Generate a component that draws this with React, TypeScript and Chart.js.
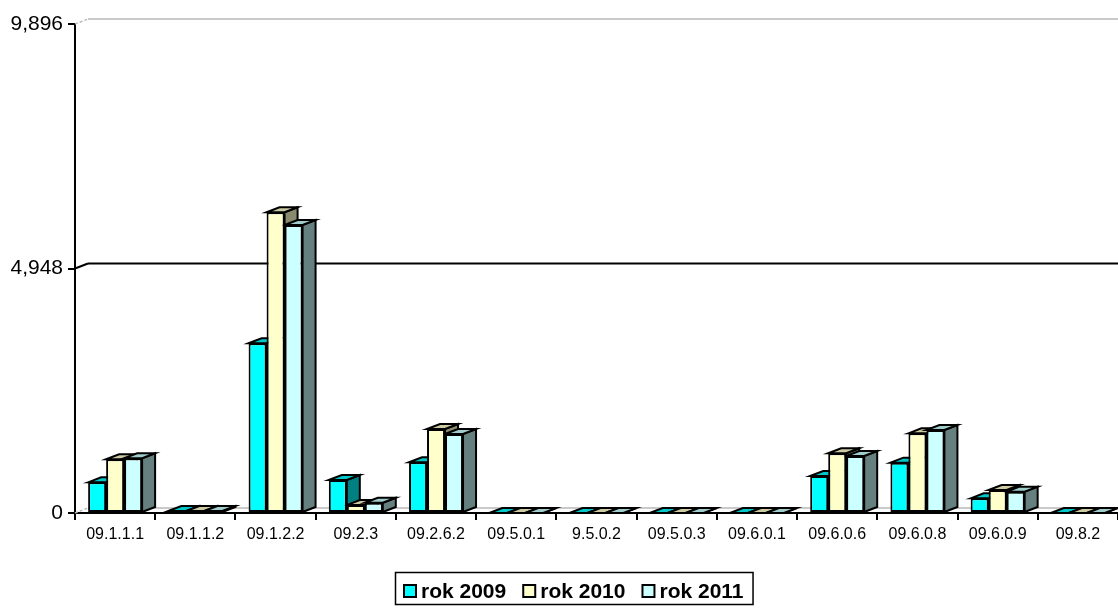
import React, { useEffect, useRef } from 'react';
import { Chart, registerables } from 'chart.js';

Chart.register(...registerables);

const categories = ['09.1.1.1', '09.1.1.2', '09.1.2.2', '09.2.3', '09.2.6.2', '09.5.0.1', '9.5.0.2', '09.5.0.3', '09.6.0.1', '09.6.0.6', '09.6.0.8', '09.6.0.9', '09.8.2'];
const rok2009 = [621, 40, 3435, 668, 1026, 0, 0, 0, 0, 749, 1019, 297, 0];
const rok2010 = [1087, 40, 6086, 160, 1700, 0, 0, 0, 0, 1208, 1612, 466, 0];
const rok2011 = [1107, 40, 5829, 208, 1599, 0, 0, 0, 0, 1154, 1680, 432, 0];
const seriesLabels = ['rok 2009', 'rok 2010', 'rok 2011'];
const yTicks = [0, 4948, 9896];

const frontColors = ['#00FFFF', '#FFFFCC', '#CCFFFF'];
const topColors = ['#00C8C8', '#CCCBA3', '#A0CCCC'];
const sideColors = ['#008080', '#8A8A6E', '#668080'];

const DX = 13;
const DY = -5;
const FONT = '"Liberation Sans", Arial, sans-serif';

const depthPlugin = {
  id: 'depth3d',
  beforeDatasetsDraw(chart: any) {
    const { ctx, chartArea, scales } = chart;
    const y = scales.y;
    const x0 = chartArea.left;
    const x1 = chartArea.right;
    ctx.save();
    yTicks.forEach((v, i) => {
      const py = y.getPixelForValue(v);
      const mid = i === 1;
      ctx.strokeStyle = mid ? '#000000' : '#b8b8b8';
      ctx.lineWidth = mid ? 2 : 1.5;
      ctx.setLineDash(mid ? [] : [3, 2]);
      ctx.beginPath();
      ctx.moveTo(x0, py);
      ctx.lineTo(x0 + DX, py + DY);
      ctx.stroke();
      ctx.setLineDash([]);
      ctx.beginPath();
      ctx.moveTo(x0 + DX, py + DY);
      ctx.lineTo(x1, py + DY);
      ctx.stroke();
    });

    ctx.lineWidth = 2;
    ctx.strokeStyle = '#000000';
    ctx.lineJoin = 'miter';
    chart.data.datasets.forEach((_ds: any, idx: number) => {
      const meta = chart.getDatasetMeta(idx);
      meta.data.forEach((bar: any) => {
        const { x, y: top, base, width } = bar.getProps(['x', 'y', 'base', 'width'], true);
        const l = x - width / 2;
        const r = x + width / 2;
        ctx.fillStyle = sideColors[idx];
        ctx.beginPath();
        ctx.moveTo(r, top);
        ctx.lineTo(r + DX, top + DY);
        ctx.lineTo(r + DX, base + DY);
        ctx.lineTo(r, base);
        ctx.closePath();
        ctx.fill();
        ctx.stroke();
        ctx.fillStyle = topColors[idx];
        ctx.beginPath();
        ctx.moveTo(l, top);
        ctx.lineTo(l + DX, top + DY);
        ctx.lineTo(r + DX, top + DY);
        ctx.lineTo(r, top);
        ctx.closePath();
        ctx.fill();
        ctx.stroke();
      });
    });
    ctx.restore();
  },
  afterDraw(chart: any) {
    const ctx = chart.ctx;
    const datasets = chart.data.datasets;
    ctx.save();
    ctx.font = `bold 21px ${FONT}`;
    ctx.textBaseline = 'middle';
    ctx.textAlign = 'left';
    const left = 395;
    const top = 572;
    const h = 32;
    const pad = 9;
    const box = 12;
    const gapText = 5;
    const gapItem = 17;
    let w = pad * 2;
    datasets.forEach((ds: any, i: number) => {
      w += box + gapText + ctx.measureText(ds.label).width + (i < datasets.length - 1 ? gapItem : 0);
    });
    ctx.strokeStyle = '#000';
    ctx.lineWidth = 1.5;
    ctx.strokeRect(left + 0.5, top + 0.5, w, h);
    let x = left + pad;
    const cy = top + h / 2 + 3;
    datasets.forEach((ds: any) => {
      ctx.fillStyle = ds.backgroundColor;
      ctx.fillRect(x, cy - box / 2, box, box);
      ctx.lineWidth = 2;
      ctx.strokeRect(x, cy - box / 2, box, box);
      x += box + gapText;
      ctx.fillStyle = '#000';
      ctx.fillText(ds.label, x, cy + 1);
      x += ctx.measureText(ds.label).width + gapItem;
    });
    ctx.restore();
  },
};

export default function App() {
  const canvasRef = useRef<HTMLCanvasElement | null>(null);

  useEffect(() => {
    if (!canvasRef.current) return;
    const series = [rok2009, rok2010, rok2011];
    const chart = new Chart(canvasRef.current, {
      type: 'bar',
      data: {
        labels: categories,
        datasets: series.map((data, i) => ({
          label: seriesLabels[i],
          data,
          backgroundColor: frontColors[i],
          borderColor: '#000000',
          borderWidth: 2,
          borderSkipped: false,
          categoryPercentage: 0.673,
          barPercentage: 1,
        })),
      },
      options: {
        responsive: false,
        animation: false,
        layout: { padding: { top: 24, left: 0, right: 0, bottom: 40 } },
        plugins: {
          legend: { display: false },
          tooltip: { enabled: false },
        },
        scales: {
          x: {
            type: 'category',
            offset: true,
            grid: {
              display: true,
              offset: true,
              drawOnChartArea: false,
              drawTicks: true,
              tickLength: 7,
              color: '#000000',
              lineWidth: 2,
            },
            border: { display: true, color: '#000000', width: 2 },
            ticks: {
              color: '#000000',
              font: { family: FONT, size: 16 },
              padding: 5,
              maxRotation: 0,
              autoSkip: false,
            },
            afterFit: (scale: any) => {
              scale.height = 55;
            },
          },
          y: {
            min: 0,
            max: 9896,
            grid: {
              display: true,
              drawOnChartArea: false,
              drawTicks: true,
              tickLength: 7,
              color: '#000000',
              lineWidth: 2,
            },
            border: { display: true, color: '#000000', width: 2 },
            ticks: {
              color: '#000000',
              font: { family: FONT, size: 21 },
              padding: 5,
              callback: (v: any) => Number(v).toLocaleString('en-US'),
            },
            afterBuildTicks: (scale: any) => {
              scale.ticks = yTicks.map((v) => ({ value: v }));
            },
            afterFit: (scale: any) => {
              scale.width = 75;
            },
          },
        },
      },
      plugins: [depthPlugin],
    });
    return () => chart.destroy();
  }, []);

  return (
    <div style={{ position: 'absolute', left: 0, top: 0, width: 1118, height: 608, background: '#ffffff' }}>
      <canvas ref={canvasRef} width={1118} height={608} style={{ display: 'block' }} />
    </div>
  );
}
